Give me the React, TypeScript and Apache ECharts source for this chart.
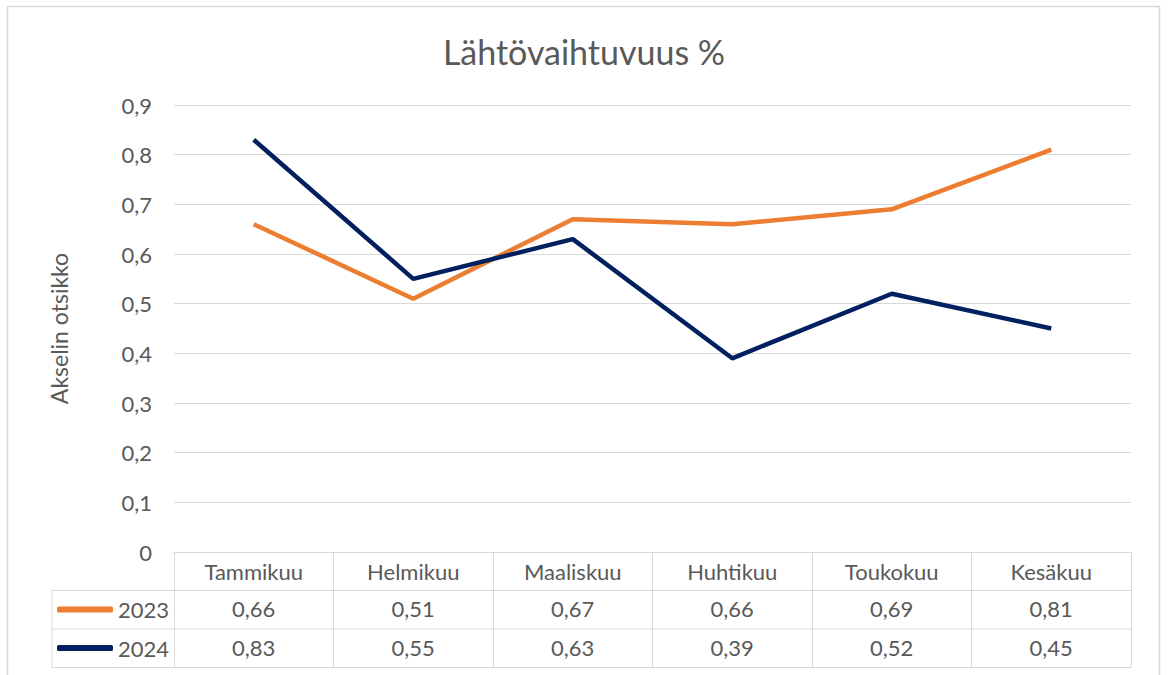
import React, { useEffect, useRef } from "react";
import * as echarts from "echarts";

const months = ["Tammikuu", "Helmikuu", "Maaliskuu", "Huhtikuu", "Toukokuu", "Kesäkuu"];
const seriesNames = ["2023", "2024"];
const values2023 = [0.66, 0.51, 0.67, 0.66, 0.69, 0.81];
const values2024 = [0.83, 0.55, 0.63, 0.39, 0.52, 0.45];
const colors = ["#ED7D31", "#002060"];
const titleText = "Lähtövaihtuvuus %";
const yAxisTitle = "Akselin otsikko";

const fmt2 = (v: number) => v.toFixed(2).replace(".", ",");
const fmtY = (v: number) => (v === 0 ? "0" : v.toFixed(1).replace(".", ","));

const FONT = "Lato, 'Noto Sans', sans-serif";
const TXT = "#595959";
const GRID = "#d9d9d9";

export default function App() {
  const ref = useRef<HTMLDivElement>(null);
  useEffect(() => {
    document.body.style.margin = "0";
    const chart = echarts.init(ref.current!, null, { renderer: "svg" });
    const gridLeft = 174, gridRight = 1131, gridTop = 105, gridBottom = 552;
    const rowH = 38.5;
    const tableLeft = 52;
    const rowLines = [gridBottom + rowH, gridBottom + 2 * rowH, gridBottom + 3 * rowH];
    const lbl = { fontFamily: FONT, fontSize: 22, color: TXT };
    chart.setOption({
      animation: false,
      backgroundColor: "#fff",
      textStyle: { fontFamily: FONT },
      title: {
        text: titleText,
        left: "center",
        top: 29,
        textStyle: { fontFamily: FONT, fontSize: 34, fontWeight: "normal", color: TXT },
      },
      legend: {
        orient: "vertical",
        left: 57,
        top: gridBottom + rowH + 7,
        padding: 0,
        itemWidth: 56,
        itemHeight: 6,
        itemGap: 14.5,
        icon: "roundRect",
        selectedMode: false,
        textStyle: { ...lbl, lineHeight: 24, padding: [0, 0, 0, 0] },
        data: seriesNames,
      },
      grid: { left: gridLeft, right: 1168 - gridRight, top: gridTop, bottom: 675 - gridBottom, containLabel: false },
      yAxis: {
        type: "value",
        min: 0,
        max: 0.9,
        interval: 0.1,
        name: yAxisTitle,
        nameLocation: "middle",
        nameGap: 104,
        nameRotate: 90,
        nameTextStyle: { ...lbl, fontSize: 23 },
        axisLine: { show: false },
        axisTick: { show: false },
        axisLabel: { ...lbl, margin: 22, formatter: (v: number) => fmtY(v) },
        splitLine: { lineStyle: { color: GRID, width: 1 } },
      },
      xAxis: [
        {
          type: "category",
          data: months,
          boundaryGap: true,
          axisLine: { show: true, lineStyle: { color: GRID, width: 1 } },
          axisTick: { show: true, interval: 0, length: rowH * 3, lineStyle: { color: GRID, width: 1 } },
          axisLabel: { ...lbl, margin: 8, interval: 0 },
        },
        {
          type: "category",
          data: months,
          position: "bottom",
          offset: rowH,
          axisLine: { show: false },
          axisTick: { show: false },
          axisLabel: { ...lbl, margin: 7, interval: 0, formatter: (_v: string, i: number) => fmt2(values2023[i]) },
        },
        {
          type: "category",
          data: months,
          position: "bottom",
          offset: rowH * 2,
          axisLine: { show: false },
          axisTick: { show: false },
          axisLabel: { ...lbl, margin: 7, interval: 0, formatter: (_v: string, i: number) => fmt2(values2024[i]) },
        },
      ],
      series: [
        {
          name: seriesNames[0],
          type: "line",
          data: values2023,
          showSymbol: false,
          symbol: "none",
          lineStyle: { color: colors[0], width: 4.5 },
          itemStyle: { color: colors[0] },
          z: 3,
        },
        {
          name: seriesNames[1],
          type: "line",
          data: values2024,
          showSymbol: false,
          symbol: "none",
          lineStyle: { color: colors[1], width: 4.5 },
          itemStyle: { color: colors[1] },
          z: 4,
        },
      ],
      graphic: [
        {
          type: "rect",
          shape: { x: 7.5, y: 6.5, width: 1152, height: 700 },
          style: { fill: "none", stroke: GRID, lineWidth: 1.5 },
          silent: true,
        },
        ...rowLines.map((y) => ({
          type: "line",
          shape: { x1: tableLeft, y1: y, x2: gridRight, y2: y },
          style: { stroke: GRID, lineWidth: 1 },
          silent: true,
        })),
        {
          type: "line",
          shape: { x1: tableLeft, y1: rowLines[0], x2: tableLeft, y2: rowLines[2] },
          style: { stroke: GRID, lineWidth: 1 },
          silent: true,
        },
      ],
    });
    return () => chart.dispose();
  }, []);
  return <div ref={ref} style={{ position: "absolute", left: 0, top: 0, width: 1168, height: 675 }} />;
}
